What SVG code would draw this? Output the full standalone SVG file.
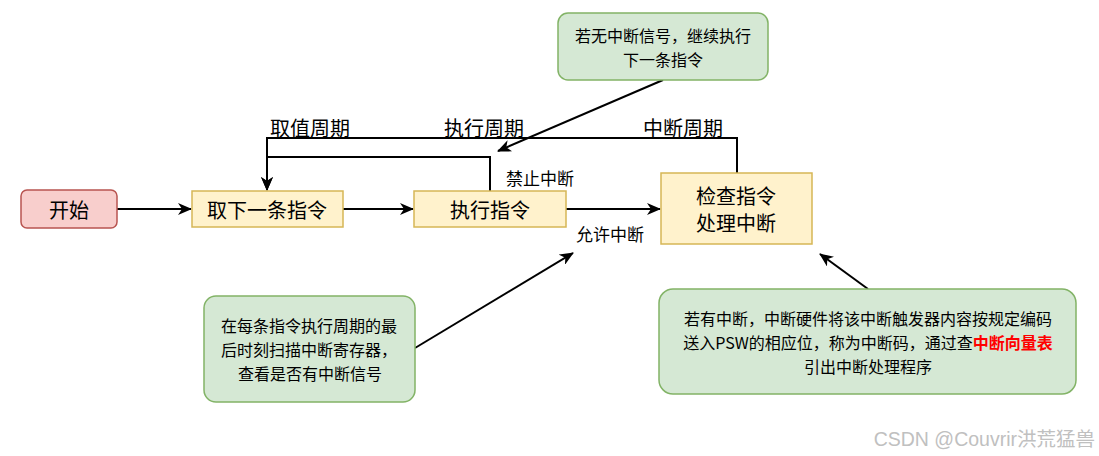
<svg xmlns="http://www.w3.org/2000/svg" width="1099" height="456" viewBox="0 0 1099 456">
<defs>
<marker id="arr" viewBox="0 0 14 12" markerWidth="14" markerHeight="12" refX="13" refY="6" orient="auto" markerUnits="userSpaceOnUse">
<path d="M0,0 L14,6 L0,12 L4,6 Z" fill="#000"/>
</marker>
</defs>
<style>
text{font-family:"Noto Sans CJK SC","Microsoft YaHei",sans-serif;fill:#000;text-anchor:middle;dominant-baseline:central}
.big{font-size:20px}
.lab{font-size:20px}
.small{font-size:17px}
.note{font-size:16px}
.start{fill:#f8cecc;stroke:#b85450;stroke-width:1.5}
.proc{fill:#fff2cc;stroke:#d6b656;stroke-width:1.5}
.green{fill:#d5e8d4;stroke:#82b366;stroke-width:1.5}
.edge{fill:none;stroke:#000;stroke-width:2;marker-end:url(#arr)}
.red{fill:#ff0000;font-weight:bold}
.wm{font-size:19.5px;fill:#c0c0c0;text-anchor:end;font-family:"Liberation Sans","Noto Sans CJK SC",sans-serif}
</style>
<rect width="1099" height="456" fill="#fff"/>
<g id="connectors">
<path class="edge" d="M117,209 H191"/>
<path class="edge" d="M343,209 H413"/>
<path class="edge" d="M566,209 H660"/>
<path class="edge" d="M490,191 V157 H267 V190"/>
<path class="edge" d="M737,173 V138 H267 V190"/>
<path class="edge" d="M663,80 L498,151"/>
<path class="edge" d="M415,348 L573,253"/>
<path class="edge" d="M868,289 L820,254"/>
<text class="lab" x="310" y="127">取值周期</text>
<text class="lab" x="484" y="127">执行周期</text>
<text class="lab" x="683" y="127">中断周期</text>
<text class="small" x="540" y="177">禁止中断</text>
<text class="small" x="610" y="233">允许中断</text>
</g>
<g id="start">
<rect class="start" x="21" y="190" width="96" height="38" rx="6"/>
<text class="big" x="69" y="209">开始</text>
</g>
<g id="fetch">
<rect class="proc" x="192" y="191" width="151" height="36"/>
<text class="big" x="267" y="209">取下一条指令</text>
</g>
<g id="exec">
<rect class="proc" x="414" y="191" width="152" height="36"/>
<text class="big" x="490" y="209">执行指令</text>
</g>
<g id="check">
<rect class="proc" x="661" y="173" width="151" height="71"/>
<text class="big" x="736" y="195">检查指令</text>
<text class="big" x="736" y="222">处理中断</text>
</g>
<g id="note-top">
<rect class="green" x="558" y="13" width="210" height="67" rx="10"/>
<text class="note" x="663" y="35">若无中断信号，继续执行</text>
<text class="note" x="663" y="59">下一条指令</text>
</g>
<g id="note-left">
<rect class="green" x="204" y="296" width="211" height="106" rx="12"/>
<text class="note" x="309" y="325">在每条指令执行周期的最</text>
<text class="note" x="309" y="349">后时刻扫描中断寄存器，</text>
<text class="note" x="310" y="373">查看是否有中断信号</text>
</g>
<g id="note-right">
<rect class="green" x="659" y="289" width="417" height="105" rx="14"/>
<text class="note" x="868" y="318">若有中断，中断硬件将该中断触发器内容按规定编码</text>
<text class="note" x="868" y="342">送入PSW的相应位，称为中断码，通过查<tspan class="red">中断向量表</tspan></text>
<text class="note" x="868" y="366">引出中断处理程序</text>
</g>
<text class="wm" x="1095" y="439">CSDN @Couvrir洪荒猛兽</text>
</svg>
